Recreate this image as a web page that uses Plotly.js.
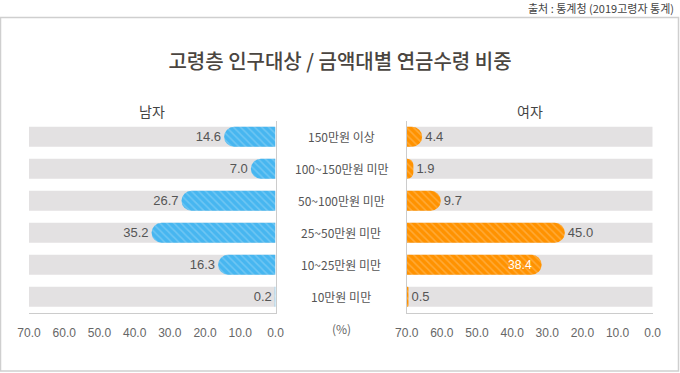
<!DOCTYPE html>
<html>
<head>
<meta charset="utf-8">
<script src="https://cdn.plot.ly/plotly-3.0.1.min.js"></script>
<style>html,body{margin:0;padding:0;background:#fff;}#chart{width:680px;height:373px;}</style>
</head>
<body>
<div id="chart"></div>
<script>
// ---- data ----
const categories = ['150만원 이상', '100~150만원 미만', '50~100만원 미만', '25~50만원 미만', '10~25만원 미만', '10만원 미만'];
const maleValues = [14.6, 7.0, 26.7, 35.2, 16.3, 0.2];
const femaleValues = [4.4, 1.9, 9.7, 45.0, 38.4, 0.5];
const axisMax = 70;
const tickValues = [0, 10, 20, 30, 40, 50, 60, 70];
const leftTickText = ['0.0', '10.0', '20.0', '30.0', '40.0', '50.0', '60.0', '70.0'];
const rightTickText = ['70.0', '60.0', '50.0', '40.0', '30.0', '20.0', '10.0', '0.0'];
const femaleTextPos = ['outside', 'outside', 'outside', 'outside', 'inside', 'outside'];

const W = 680, H = 373;
const px = v => v / W;
const py = v => 1 - v / H;
const FONT = '"Noto Sans CJK KR", "Noto Sans", sans-serif';
const NUMFONT = '"Liberation Sans", "DejaVu Sans", sans-serif';
const trackValues = categories.map(() => axisMax);

const barW = 0.625;
const trackColor = '#e3e1e2';
const blue = '#47b6f0';
const orange = '#ff9200';
const pat = {shape: '\\', fgcolor: '#ffffff', fgopacity: 0.22, size: 5, solidity: 0.3, fillmode: 'overlay'};

const traces = [
  {type: 'bar', orientation: 'h', y: categories, x: trackValues, xaxis: 'x', yaxis: 'y',
   width: barW, marker: {color: trackColor, cornerradius: 0}, hoverinfo: 'skip', showlegend: false},
  {type: 'bar', orientation: 'h', y: categories, x: trackValues, xaxis: 'x2', yaxis: 'y2',
   width: barW, marker: {color: trackColor, cornerradius: 0}, hoverinfo: 'skip', showlegend: false},
  {type: 'bar', orientation: 'h', y: categories, x: maleValues, xaxis: 'x', yaxis: 'y3',
   width: barW, marker: {color: blue, cornerradius: 10, pattern: pat},
   texttemplate: '%{x:.1f}', textposition: 'outside', cliponaxis: false, constraintext: 'none',
   textfont: {family: NUMFONT, size: 13, color: '#555'}, showlegend: false},
  {type: 'bar', orientation: 'h', y: categories, x: femaleValues, xaxis: 'x2', yaxis: 'y4',
   width: barW, marker: {color: orange, cornerradius: 10, pattern: pat},
   texttemplate: '%{x:.1f}', textposition: femaleTextPos, insidetextanchor: 'end', cliponaxis: false,
   constraintext: 'none',
   insidetextfont: {family: NUMFONT, size: 13, color: '#ffffff'},
   outsidetextfont: {family: NUMFONT, size: 13, color: '#555'},
   textfont: {family: NUMFONT, size: 13, color: '#555'}, showlegend: false}
];

const yDomain = [py(312.7), py(120.7)];
const axisCommon = {
  tickmode: 'array', tickvals: tickValues, showgrid: false, zeroline: false,
  showline: true, linecolor: '#cccccc', linewidth: 1, ticks: '', ticklabelstandoff: 9,
  tickfont: {family: NUMFONT, size: 12, color: '#666'}, fixedrange: true
};
const yBase = {autorange: 'reversed', type: 'category', showticklabels: false,
  showgrid: false, zeroline: false, ticks: '', fixedrange: true};

const annotations = categories.map(c => ({
  xref: 'paper', yref: 'y', x: px(341), y: c, text: c, showarrow: false,
  xanchor: 'center', yanchor: 'middle', font: {family: FONT, size: 12, color: '#555'}
}));
annotations.push(
  {xref: 'paper', yref: 'paper', x: px(341), y: py(328), text: '(%)', showarrow: false,
   xanchor: 'center', yanchor: 'middle', font: {family: FONT, size: 12, color: '#666'}},
  {xref: 'paper', yref: 'paper', x: px(152), y: py(111.5), text: '남자', showarrow: false,
   xanchor: 'center', yanchor: 'middle', font: {family: FONT, size: 14, color: '#444'}},
  {xref: 'paper', yref: 'paper', x: px(530), y: py(111.5), text: '여자', showarrow: false,
   xanchor: 'center', yanchor: 'middle', font: {family: FONT, size: 14, color: '#444'}},
  {xref: 'paper', yref: 'paper', x: px(676), y: py(8), text: '출처 : 통계청 (2019고령자 통계)', showarrow: false,
   xanchor: 'right', yanchor: 'middle', font: {family: FONT, size: 11, color: '#444'}}
);

const layout = {
  width: W, height: H, margin: {l: 0, r: 0, t: 0, b: 0},
  paper_bgcolor: '#ffffff', plot_bgcolor: 'rgba(0,0,0,0)',
  barmode: 'group', showlegend: false,
  title: {text: '고령층 인구대상 / 금액대별 연금수령 비중', x: 0.5, xanchor: 'center',
          y: py(62), yanchor: 'middle', yref: 'container',
          font: {family: FONT, size: 20, color: '#4a4540', weight: 500}},
  xaxis: Object.assign({}, axisCommon, {domain: [px(29), px(275.5)], range: [axisMax, 0],
          ticktext: leftTickText, anchor: 'y'}),
  xaxis2: Object.assign({}, axisCommon, {domain: [px(406.7), px(652.7)], range: [0, axisMax],
          ticktext: rightTickText, anchor: 'y2'}),
  yaxis: Object.assign({}, yBase, {domain: yDomain, anchor: 'x', side: 'right',
          showline: true, linecolor: '#cccccc', linewidth: 1}),
  yaxis2: Object.assign({}, yBase, {domain: yDomain, anchor: 'x2', side: 'left',
          showline: true, linecolor: '#cccccc', linewidth: 1}),
  yaxis3: Object.assign({}, yBase, {overlaying: 'y', anchor: 'x', side: 'right', showline: false}),
  yaxis4: Object.assign({}, yBase, {overlaying: 'y2', anchor: 'x2', side: 'left', showline: false}),
  annotations: annotations,
  shapes: [
    {type: 'rect', xref: 'paper', yref: 'paper', x0: px(0.5), x1: px(678.5), y0: py(371), y1: py(17.5),
     line: {color: '#cfcfcf', width: 1.5}, fillcolor: 'rgba(0,0,0,0)', layer: 'below'}
  ]
};

Plotly.newPlot('chart', traces, layout, {displayModeBar: false, staticPlot: true});
</script>
</body>
</html>
